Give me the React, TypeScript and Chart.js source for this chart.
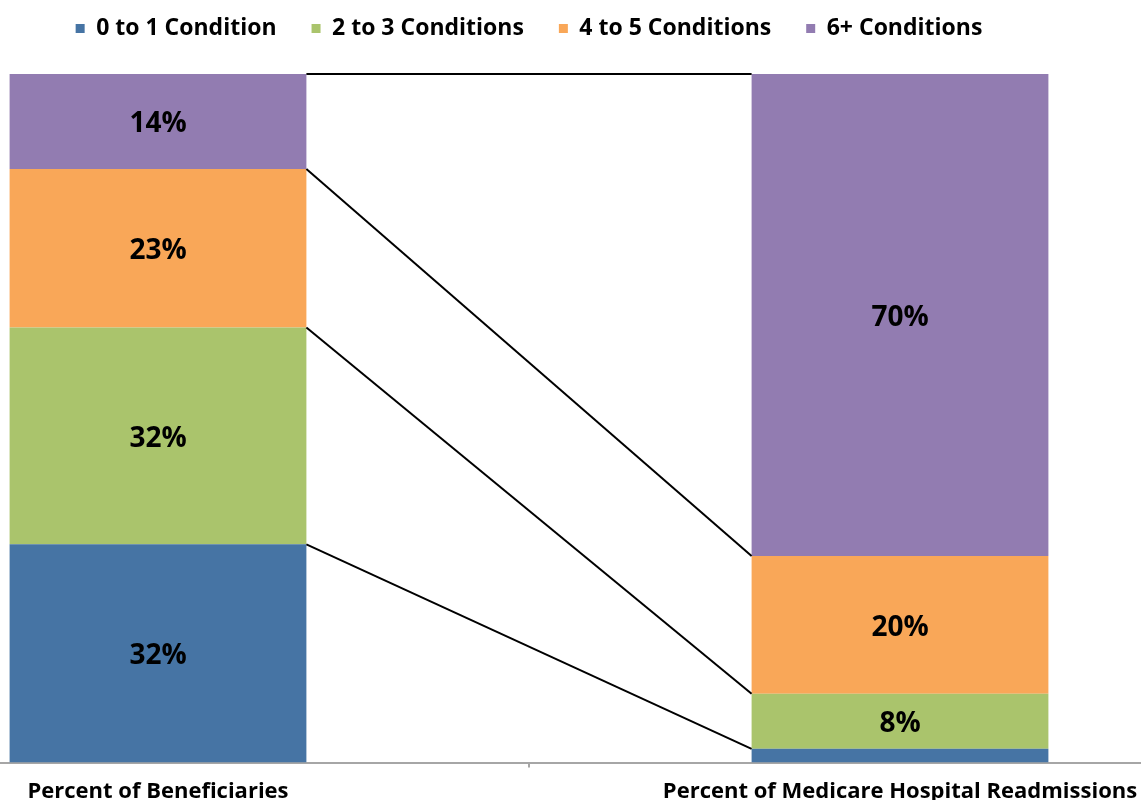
import React, { useEffect, useRef } from "react";
import { Chart, registerables } from "chart.js";

Chart.register(...registerables);

const categories = ["Percent of Beneficiaries", "Percent of Medicare Hospital Readmissions"];
const seriesNames = ["0 to 1 Condition", "2 to 3 Conditions", "4 to 5 Conditions", "6+ Conditions"];
const cond0to1 = [31.7, 2.0];
const cond2to3 = [31.5, 8.0];
const cond4to5 = [23.0, 20.0];
const cond6plus = [13.8, 70.0];
const seriesColors = ["#4674A4", "#AAC46C", "#F9A758", "#927CB1"];

const FONT = "'Open Sans', Lato, sans-serif";
const CANVAS_W = 1484;
const CANVAS_H = 834;
const OFFSET_X = -213;
const OFFSET_Y = -18;
const LEGEND_H = 92;

const legendSpacer = {
  id: "legendSpacer",
  beforeInit(chart: any) {
    const orig = chart.legend.fit;
    chart.legend.fit = function fit() {
      orig.bind(chart.legend)();
      this.height = LEGEND_H;
    };
  },
};

const connectors = {
  id: "connectors",
  afterDatasetsDraw(chart: any) {
    const ctx = chart.ctx;
    ctx.save();
    ctx.strokeStyle = "#000";
    ctx.lineWidth = 2;
    chart.data.datasets.forEach((_d: any, i: number) => {
      const meta = chart.getDatasetMeta(i);
      const a = meta.data[0];
      const b = meta.data[1];
      if (!a || !b) return;
      ctx.beginPath();
      ctx.moveTo(a.x + a.width / 2, a.y);
      ctx.lineTo(b.x - b.width / 2, b.y);
      ctx.stroke();
    });
    ctx.restore();
  },
};

const valueLabels = {
  id: "valueLabels",
  afterDatasetsDraw(chart: any) {
    const ctx = chart.ctx;
    ctx.save();
    ctx.fillStyle = "#000";
    ctx.font = `bold 28px ${FONT}`;
    ctx.textAlign = "center";
    ctx.textBaseline = "middle";
    chart.data.datasets.forEach((d: any, i: number) => {
      const meta = chart.getDatasetMeta(i);
      meta.data.forEach((el: any, j: number) => {
        const v = d.data[j];
        if (v < 5) return;
        ctx.fillText(`${Math.round(v)}%`, el.x, (el.y + el.base) / 2 + 3);
      });
    });
    ctx.restore();
  },
};

export default function App() {
  const ref = useRef<HTMLCanvasElement>(null);
  useEffect(() => {
    if (!ref.current) return;
    const series = [cond0to1, cond2to3, cond4to5, cond6plus];
    const chart = new Chart(ref.current, {
      type: "bar",
      data: {
        labels: categories,
        datasets: series.map((s, i) => ({
          label: seriesNames[i],
          data: s,
          backgroundColor: seriesColors[i],
          borderWidth: 0,
          categoryPercentage: 1,
          barPercentage: 0.4,
        })),
      },
      options: {
        responsive: false,
        animation: false,
        devicePixelRatio: 1,
        layout: { padding: 0 },
        plugins: {
          tooltip: { enabled: false },
          legend: {
            display: true,
            position: "top",
            labels: {
              boxWidth: 9,
              boxHeight: 9,
              padding: 35,
              color: "#000",
              font: { family: FONT, size: 23, weight: "bold" },
            },
          },
        },
        scales: {
          x: {
            type: "category",
            stacked: true,
            offset: true,
            grid: {
              offset: true,
              drawOnChartArea: false,
              drawTicks: true,
              tickLength: 5,
              color: "#a6a6a6",
              lineWidth: 2,
            },
            border: { display: true, color: "#a6a6a6", width: 2 },
            ticks: {
              color: "#000",
              font: { family: FONT, size: 22, weight: "bold" },
              padding: 11,
              maxRotation: 0,
              autoSkip: false,
            },
          },
          y: {
            display: false,
            stacked: true,
            min: 0,
            max: 100,
          },
        },
      },
      plugins: [legendSpacer, connectors, valueLabels],
    });
    return () => chart.destroy();
  }, []);

  return (
    <div
      style={{
        position: "fixed",
        left: 0,
        top: 0,
        width: 1141,
        height: 800,
        overflow: "hidden",
        background: "#fff",
      }}
    >
      <canvas
        ref={ref}
        width={CANVAS_W}
        height={CANVAS_H}
        style={{ position: "absolute", left: OFFSET_X, top: OFFSET_Y, width: CANVAS_W, height: CANVAS_H }}
      />
    </div>
  );
}
